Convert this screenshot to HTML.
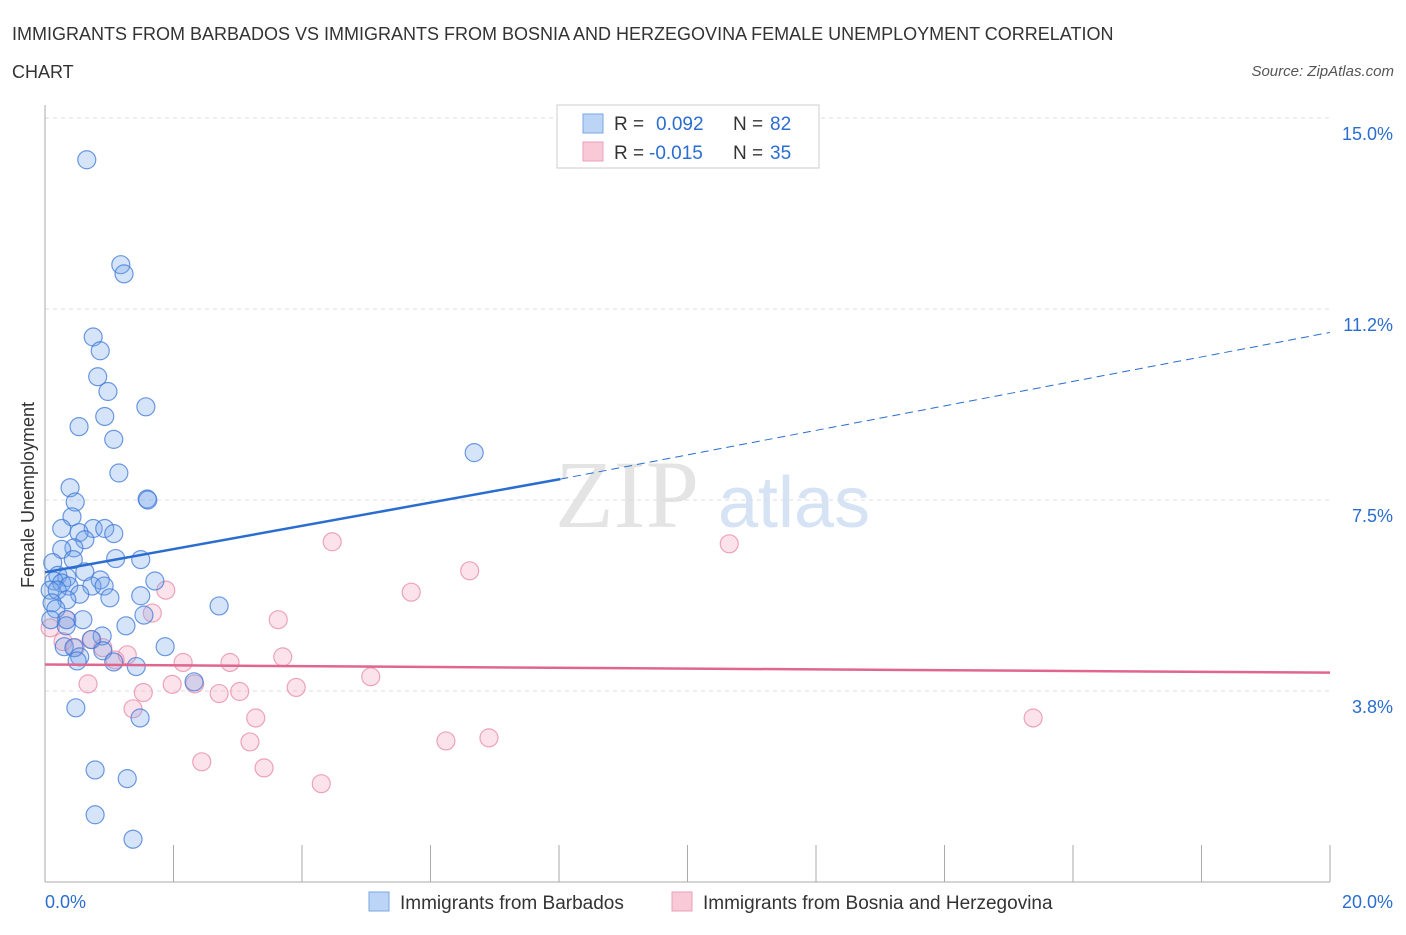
<!DOCTYPE html>
<html><head><meta charset="utf-8"><style>
body{margin:0;background:#fff;font-family:"Liberation Sans",sans-serif;}
</style></head><body>
<svg id="c" width="1406" height="930" xmlns="http://www.w3.org/2000/svg">
<text x="12" y="40" font-size="18" fill="#333">IMMIGRANTS FROM BARBADOS VS IMMIGRANTS FROM BOSNIA AND HERZEGOVINA FEMALE UNEMPLOYMENT CORRELATION</text>
<text x="12" y="78" font-size="18" fill="#333">CHART</text>
<text x="1394" y="76" font-size="15" fill="#555" font-style="italic" text-anchor="end">Source: ZipAtlas.com</text>
<text x="555" y="527" font-size="96" fill="#e4e4e4" font-family="Liberation Serif">ZIP</text>
<text x="718" y="527" font-size="72" fill="#d6e3f5">atlas</text>
<g id="grid"></g><g id="axes"></g><g id="marks"></g>
<text transform="translate(34,495) rotate(-90)" font-size="18" fill="#333" text-anchor="middle">Female Unemployment</text>
<g>
<rect x="557" y="105" width="262" height="63" fill="#fff" stroke="#ccc"/>
<rect x="583" y="114" width="20" height="19" fill="#bcd5f7" stroke="#7aa6e3"/>
<text x="614" y="130" font-size="19" fill="#333">R = </text><text x="656" y="130" font-size="19" fill="#2a6dd0">0.092</text>
<text x="733" y="130" font-size="19" fill="#333">N = </text><text x="770" y="130" font-size="19" fill="#2a6dd0">82</text>
<rect x="583" y="142" width="20" height="19" fill="#f9c9d8" stroke="#e9a0b8"/>
<text x="614" y="159" font-size="19" fill="#333">R = </text><text x="649" y="159" font-size="19" fill="#2a6dd0">-0.015</text>
<text x="733" y="159" font-size="19" fill="#333">N = </text><text x="770" y="159" font-size="19" fill="#2a6dd0">35</text>
</g>
<g>
<rect x="369" y="892" width="20" height="19" fill="#bcd5f7" stroke="#7aa6e3"/>
<text x="400" y="909" font-size="19" fill="#333">Immigrants from Barbados</text>
<rect x="672" y="892" width="20" height="19" fill="#f9c9d8" stroke="#e9a0b8"/>
<text x="703" y="909" font-size="19" fill="#333">Immigrants from Bosnia and Herzegovina</text>
</g>
</svg>
<script>
const yTicks=[15,11.25,7.5,3.75];
const yTickLabels=["15.0%","11.2%","7.5%","3.8%"];
const xTicks=[0,2,4,6,8,10,12,14,16,18,20];
const blueX=[0.65,1.18,1.23,0.75,0.86,0.82,0.98,1.57,0.93,0.53,1.07,6.68,1.15,0.39,1.59,1.60,0.47,0.42,0.26,0.75,0.93,0.53,1.07,0.62,0.45,0.26,1.10,1.49,0.44,0.12,0.62,0.20,0.34,0.14,0.26,0.37,0.86,0.73,0.92,1.71,0.08,0.19,0.54,1.01,1.49,0.34,0.11,0.17,2.71,1.54,0.34,0.59,0.09,1.26,0.33,0.89,0.72,0.30,0.45,1.87,0.54,0.90,0.50,1.07,1.42,2.32,0.48,1.48,0.78,1.28,0.78,1.37];
const blueY=[14.18,12.12,11.94,10.70,10.43,9.92,9.63,9.33,9.14,8.94,8.69,8.43,8.03,7.74,7.52,7.50,7.46,7.17,6.94,6.94,6.94,6.86,6.84,6.72,6.56,6.53,6.35,6.33,6.33,6.27,6.09,6.02,5.98,5.91,5.87,5.81,5.93,5.81,5.81,5.91,5.73,5.73,5.65,5.58,5.62,5.54,5.48,5.36,5.42,5.24,5.15,5.15,5.15,5.03,5.03,4.83,4.76,4.62,4.60,4.62,4.42,4.54,4.34,4.32,4.23,3.93,3.42,3.22,2.20,2.03,1.32,0.84];
const pinkX=[0.08,0.33,0.28,0.47,0.67,0.73,0.90,1.09,1.28,1.37,1.53,1.67,1.88,1.98,2.15,2.33,2.44,2.71,2.88,3.03,3.19,3.28,3.41,3.63,3.70,3.91,4.30,4.47,5.07,5.70,6.24,6.61,6.91,10.65,15.38];
const pinkY=[4.99,5.15,4.72,4.60,3.89,4.76,4.60,4.36,4.46,3.40,3.72,5.28,5.73,3.88,4.31,3.89,2.36,3.70,4.31,3.74,2.75,3.22,2.24,5.15,4.42,3.82,1.93,6.68,4.03,5.69,2.77,6.11,2.83,6.64,3.22];
const blueTrend=[6.08,7.91,10.79];
const blueTrendX=[0,8.02,20];
const pinkTrend=[4.27,4.11];
const X=v=>45+v*(1285/20);
const Y=v=>882-v*(191/3.75);
const NS="http://www.w3.org/2000/svg";
function mk(t,a,p){const e=document.createElementNS(NS,t);for(const k in a)e.setAttribute(k,a[k]);p.appendChild(e);return e;}
const grid=document.getElementById('grid'),axes=document.getElementById('axes'),marks=document.getElementById('marks');
yTicks.forEach((v,i)=>{
 const l=mk('line',{x1:45,x2:1330,y1:Y(v),y2:Y(v),stroke:'#ddd','stroke-dasharray':'4,4'},grid);
 
 
 const t=mk('text',{x:1393,y:Y(v)+22,'font-size':18,fill:'#2a6dd0','text-anchor':'end'},axes);
 t.textContent=yTickLabels[i];
 
 
});
const ax=mk('line',{x1:45,x2:45,y1:105,y2:882,stroke:'#aaa'},axes);


const bx=mk('line',{x1:45,x2:1330,y1:882,y2:882,stroke:'#aaa'},axes);


xTicks.forEach(v=>{
 const l=mk('line',{x1:X(v),x2:X(v),y1:845,y2:882,stroke:'#aaa'},axes);
 
 
});
[[0,"0.0%","start",45],[20,"20.0%","end",1393]].forEach(a=>{
 const t=mk('text',{x:a[3],y:908,'font-size':18,fill:'#2a6dd0','text-anchor':a[2]},axes);
 t.textContent=a[1];
 
 
});
pinkX.forEach((v,i)=>{
 const c=mk('circle',{cx:X(v),cy:Y(pinkY[i]),r:9,fill:'rgba(244,160,185,0.3)',stroke:'rgba(230,130,160,0.7)','stroke-width':1.2},marks);
 
 
});
blueX.forEach((v,i)=>{
 const c=mk('circle',{cx:X(v),cy:Y(blueY[i]),r:9,fill:'rgba(120,165,235,0.3)',stroke:'rgba(60,120,215,0.75)','stroke-width':1.2},marks);
 
 
});
const t1=mk('line',{x1:X(blueTrendX[0]),y1:Y(blueTrend[0]),x2:X(blueTrendX[1]),y2:Y(blueTrend[1]),stroke:'#2a6dd0','stroke-width':2.5},marks);


const t2=mk('line',{x1:X(blueTrendX[1]),y1:Y(blueTrend[1]),x2:X(blueTrendX[2]),y2:Y(blueTrend[2]),stroke:'#2a6dd0','stroke-width':1,'stroke-dasharray':'8,5'},marks);


const t3=mk('line',{x1:X(0),y1:Y(pinkTrend[0]),x2:X(20),y2:Y(pinkTrend[1]),stroke:'#e06690','stroke-width':2.5},marks);


</script>
</body></html>
